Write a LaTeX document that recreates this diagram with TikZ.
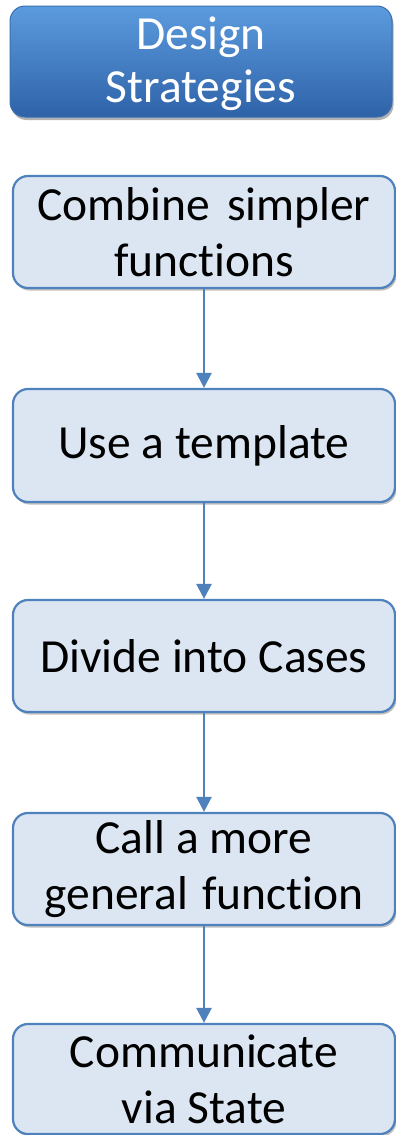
\documentclass[tikz,border=0pt]{standalone}
\usepackage{fontspec}
\setmainfont{Carlito}[Ligatures=NoCommon]
\usetikzlibrary{arrows.meta,shadows}
\definecolor{boxfill}{HTML}{DCE6F2}
\definecolor{boxline}{HTML}{4F81BD}
\definecolor{hdtop}{HTML}{5C9BDE}
\definecolor{hdbot}{HTML}{2E62A8}
\definecolor{hdline}{HTML}{3A6FB0}
\tikzset{
  stepbox/.style={draw=boxline, fill=boxfill, line width=2.2pt, rounded corners=15pt,
    minimum width=382pt, minimum height=112pt, inner sep=0pt, align=center,
    font=\fontsize{47.5}{56}\selectfont,
    drop shadow={shadow xshift=1.5pt, shadow yshift=-2.5pt, opacity=0.25, fill=black}},
  headbox/.style={draw=hdline, line width=1pt, top color=hdtop, bottom color=hdbot,
    rounded corners=15pt, minimum width=382pt, minimum height=111pt, inner sep=0pt,
    drop shadow={shadow xshift=1.5pt, shadow yshift=-3pt, opacity=0.3, fill=black}},
  headtext/.style={align=center, text=white, inner sep=0pt, font=\fontsize{47.5}{53}\selectfont},
  flow/.style={draw=boxline, line width=2.4pt, -{Triangle[width=15pt,length=15pt]}}
}
\begin{document}
\begin{tikzpicture}[x=1pt,y=1pt]
\useasboundingbox (0,0) rectangle (396,-1135);
\node[headbox] (h) at (201,-61.5) {};
\node[headtext] (ht) at (201,-64) {Design\\Strategies};
\node[stepbox] (a) at (204,-232) {Combine\hspace{17pt}simpler\\functions};
\node[stepbox, minimum height=113pt] (b) at (204,-445.5) {Use a template};
\node[stepbox] (c) at (204,-656) {Divide into Cases};
\node[stepbox] (d) at (204,-869) {Call a more\\general\hspace{14pt}function};
\node[stepbox, minimum height=110pt] (e) at (204,-1079) {Communicate\\via State};
\draw[flow] (a.south) -- (b.north);
\draw[flow] (b.south) -- (c.north);
\draw[flow] (c.south) -- (d.north);
\draw[flow] (d.south) -- (e.north);
\end{tikzpicture}
\end{document}
